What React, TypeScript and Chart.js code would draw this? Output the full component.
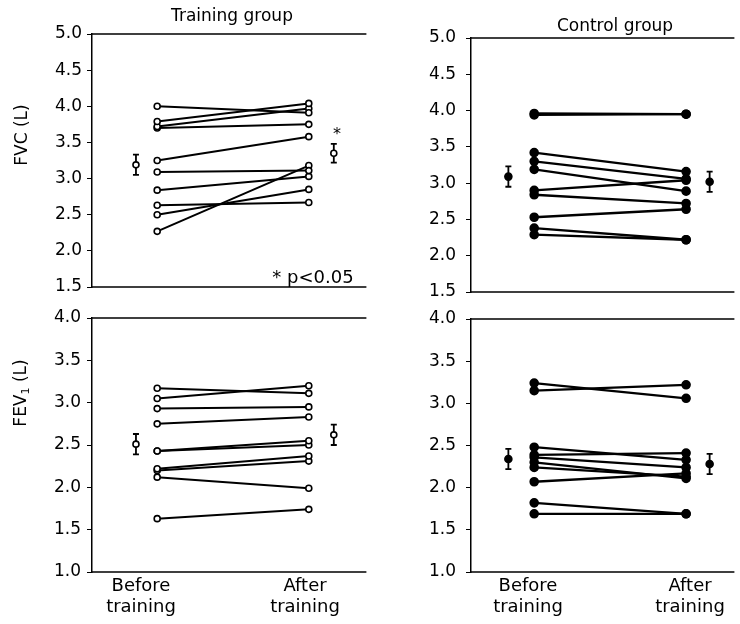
import React, { useEffect, useRef } from "react";
import { Chart, registerables } from "chart.js";

Chart.register(...registerables);

// ---------- Data ----------
const FVC_TRAIN_BEFORE = [4.0, 3.79, 3.72, 3.7, 3.25, 3.09, 2.84, 2.63, 2.5, 2.27];
const FVC_TRAIN_AFTER = [3.91, 4.04, 3.97, 3.75, 3.58, 3.11, 3.03, 2.67, 2.85, 3.18];
const FVC_TRAIN_MEAN = [3.19, 3.35];
const FVC_TRAIN_SEM = [0.14, 0.13];

const FVC_CTRL_BEFORE = [3.96, 3.94, 3.42, 3.3, 3.19, 2.9, 2.84, 2.53, 2.38, 2.29];
const FVC_CTRL_AFTER = [3.95, 3.95, 3.16, 3.06, 2.89, 3.04, 2.72, 2.64, 2.22, 2.22];
const FVC_CTRL_MEAN = [3.09, 3.02];
const FVC_CTRL_SEM = [0.14, 0.14];

const FEV_TRAIN_BEFORE = [3.17, 3.05, 2.93, 2.75, 2.43, 2.43, 2.22, 2.2, 2.12, 1.63];
const FEV_TRAIN_AFTER = [3.11, 3.2, 2.95, 2.83, 2.55, 2.5, 2.37, 2.31, 1.99, 1.74];
const FEV_TRAIN_MEAN = [2.51, 2.62];
const FEV_TRAIN_SEM = [0.12, 0.12];

const FEV_CTRL_BEFORE = [3.24, 3.15, 2.48, 2.39, 2.36, 2.3, 2.24, 2.07, 1.82, 1.69];
const FEV_CTRL_AFTER = [3.06, 3.22, 2.33, 2.41, 2.24, 2.11, 2.13, 2.17, 1.69, 1.69];
const FEV_CTRL_MEAN = [2.34, 2.28];
const FEV_CTRL_SEM = [0.12, 0.12];

// x positions: Before = 1, After = 2; group means drawn beside them
const X_BEFORE = 1;
const X_AFTER = 2;
const MEAN_X_TRAIN = [0.86, 2.165];
const MEAN_X_CTRL = [0.83, 2.155];

const FVC_RANGE = [1.5, 5.0];
const FEV_RANGE = [1.0, 4.0];
const Y_STEP = 0.5;

const FONT = "'DejaVu Sans', 'Liberation Sans', Arial, sans-serif";

type Area = { l: number; t: number; r: number; b: number };

type PanelProps = {
  area: Area;
  yRange: number[];
  xRange: number[];
  before: number[];
  after: number[];
  meanX: number[];
  means: number[];
  sems: number[];
  filled: boolean;
  tickPad: number;
};

const AXW = 70;
const M = 28;
const PR = 2;

function Panel(p: PanelProps) {
  const ref = useRef<HTMLCanvasElement>(null);
  const left = p.area.l - AXW;
  const top = p.area.t - M;
  const w = p.area.r - left + PR;
  const h = p.area.b - p.area.t + 2 * M;

  useEffect(() => {
    if (!ref.current) return;
    const datasets: any[] = [];
    p.before.forEach((b, i) => {
      datasets.push({
        data: [
          { x: X_BEFORE, y: b },
          { x: X_AFTER, y: p.after[i] },
        ],
        showLine: true,
        borderColor: "#000",
        borderWidth: p.filled ? 2.3 : 2,
        pointRadius: p.filled ? 4 : 3,
        pointBackgroundColor: p.filled ? "#000" : "#fff",
        pointBorderColor: "#000",
        pointBorderWidth: 1.6,
      });
    });
    datasets.push({
      data: p.meanX.map((x, i) => ({ x, y: p.means[i] })),
      showLine: false,
      pointRadius: p.filled ? 3.5 : 3,
      pointBackgroundColor: p.filled ? "#000" : "#fff",
      pointBorderColor: "#000",
      pointBorderWidth: 1.6,
    });

    const decor = {
      id: "decor",
      beforeDatasetsDraw(chart: any) {
        const ctx = chart.ctx;
        const xs = chart.scales.x;
        const ys = chart.scales.y;
        ctx.save();
        ctx.strokeStyle = "#000";
        ctx.lineWidth = 1.8;
        p.meanX.forEach((mx, i) => {
          const px = xs.getPixelForValue(mx);
          const y1 = ys.getPixelForValue(p.means[i] + p.sems[i]);
          const y2 = ys.getPixelForValue(p.means[i] - p.sems[i]);
          ctx.beginPath();
          ctx.moveTo(px, y1);
          ctx.lineTo(px, y2);
          ctx.moveTo(px - 3, y1);
          ctx.lineTo(px + 3, y1);
          ctx.moveTo(px - 3, y2);
          ctx.lineTo(px + 3, y2);
          ctx.stroke();
        });
        ctx.restore();
      },
      afterDraw(chart: any) {
        const ctx = chart.ctx;
        const a = chart.chartArea;
        ctx.save();
        ctx.strokeStyle = "#000";
        ctx.lineWidth = 1.5;
        ctx.beginPath();
        ctx.moveTo(a.left, a.top);
        ctx.lineTo(a.right, a.top);
        ctx.moveTo(a.left, a.bottom);
        ctx.lineTo(a.right, a.bottom);
        ctx.stroke();
        ctx.restore();
      },
    };

    const chart = new Chart(ref.current, {
      type: "scatter",
      data: { datasets },
      options: {
        animation: false,
        responsive: false,
        devicePixelRatio: 1,
        layout: { padding: { top: M, bottom: M, left: 0, right: PR } },
        plugins: { legend: { display: false }, tooltip: { enabled: false }, title: { display: false } },
        scales: {
          x: { type: "linear", min: p.xRange[0], max: p.xRange[1], display: false },
          y: {
            type: "linear",
            min: p.yRange[0],
            max: p.yRange[1],
            afterFit: (s: any) => {
              s.width = AXW;
            },
            ticks: {
              stepSize: Y_STEP,
              autoSkip: false,
              callback: (v: any) => Number(v).toFixed(1),
              color: "#000",
              font: { family: FONT, size: 17 },
              padding: p.tickPad,
            },
            grid: { drawOnChartArea: false, drawTicks: true, tickLength: 5, color: "#000", lineWidth: 1 },
            border: { display: true, color: "#000", width: 1.5 },
          },
        },
      },
      plugins: [decor],
    } as any);
    return () => chart.destroy();
  }, []);

  return (
    <canvas
      ref={ref}
      width={w}
      height={h}
      style={{ position: "absolute", left, top, width: w, height: h }}
    />
  );
}

function Txt(props: { x: number; y: number; size: number; rotate?: boolean; children: any }) {
  return (
    <div
      style={{
        position: "absolute",
        left: props.x,
        top: props.y,
        transform: `translate(-50%, -50%)${props.rotate ? " rotate(-90deg)" : ""}`,
        fontFamily: FONT,
        fontSize: props.size,
        lineHeight: 1,
        whiteSpace: "nowrap",
        color: "#000",
      }}
    >
      {props.children}
    </div>
  );
}

export default function App() {
  return (
    <div
      style={{
        position: "fixed",
        left: 0,
        top: 0,
        width: 740,
        height: 624,
        background: "#fff",
        overflow: "hidden",
      }}
    >
      <Panel
        area={{ l: 92, t: 34, r: 370, b: 287 }}
        yRange={FVC_RANGE}
        xRange={[0.57, 2.38]}
        before={FVC_TRAIN_BEFORE}
        after={FVC_TRAIN_AFTER}
        meanX={MEAN_X_TRAIN}
        means={FVC_TRAIN_MEAN}
        sems={FVC_TRAIN_SEM}
        filled={false}
        tickPad={5}
      />
      <Panel
        area={{ l: 471, t: 38, r: 738, b: 292 }}
        yRange={FVC_RANGE}
        xRange={[0.584, 2.318]}
        before={FVC_CTRL_BEFORE}
        after={FVC_CTRL_AFTER}
        meanX={MEAN_X_CTRL}
        means={FVC_CTRL_MEAN}
        sems={FVC_CTRL_SEM}
        filled={true}
        tickPad={10}
      />
      <Panel
        area={{ l: 92, t: 318, r: 370, b: 572 }}
        yRange={FEV_RANGE}
        xRange={[0.57, 2.38]}
        before={FEV_TRAIN_BEFORE}
        after={FEV_TRAIN_AFTER}
        meanX={MEAN_X_TRAIN}
        means={FEV_TRAIN_MEAN}
        sems={FEV_TRAIN_SEM}
        filled={false}
        tickPad={6}
      />
      <Panel
        area={{ l: 471, t: 319, r: 738, b: 572 }}
        yRange={FEV_RANGE}
        xRange={[0.584, 2.318]}
        before={FEV_CTRL_BEFORE}
        after={FEV_CTRL_AFTER}
        meanX={MEAN_X_CTRL}
        means={FEV_CTRL_MEAN}
        sems={FEV_CTRL_SEM}
        filled={true}
        tickPad={10}
      />

      <Txt x={232} y={15} size={17}>Training group</Txt>
      <Txt x={615} y={25} size={17}>Control group</Txt>

      <Txt x={21} y={135} size={17} rotate>FVC (L)</Txt>
      <Txt x={21} y={393} size={17} rotate>
        <span>
          FEV<sub style={{ fontSize: 11, verticalAlign: "-3px" }}>1</sub> (L)
        </span>
      </Txt>

      <Txt x={313} y={277} size={18}>* p&lt;0.05</Txt>
      <Txt x={337} y={134} size={16}>*</Txt>

      <Txt x={141} y={585} size={18}>Before</Txt>
      <Txt x={141} y={606} size={18}>training</Txt>
      <Txt x={305} y={585} size={18}>After</Txt>
      <Txt x={305} y={606} size={18}>training</Txt>

      <Txt x={528} y={585} size={18}>Before</Txt>
      <Txt x={528} y={606} size={18}>training</Txt>
      <Txt x={690} y={585} size={18}>After</Txt>
      <Txt x={690} y={606} size={18}>training</Txt>
    </div>
  );
}
